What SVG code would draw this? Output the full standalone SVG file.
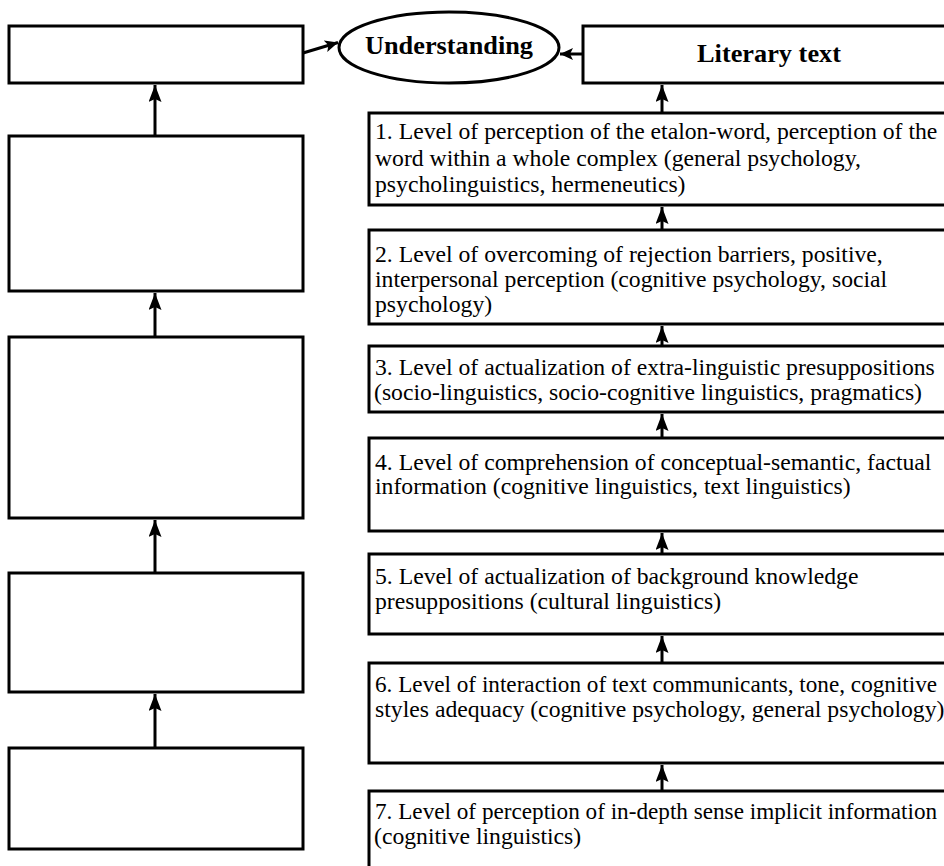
<svg xmlns="http://www.w3.org/2000/svg" width="944" height="866" viewBox="0 0 944 866">
<defs>
<style>
.box{fill:#fff;stroke:#000;stroke-width:3}
.t{font-family:"Liberation Serif","Times New Roman",serif;font-size:23.7px;fill:#000}
.n{font-family:"Liberation Serif","Times New Roman",serif;font-size:23.2px;fill:#000}
.b{font-family:"Liberation Serif","Times New Roman",serif;font-size:25px;font-weight:bold;fill:#000}
.c{fill:none;stroke:#000;stroke-width:3}
</style>
<marker id="ah" viewBox="0 0 13 12" refX="13" refY="6" markerUnits="userSpaceOnUse" markerWidth="13" markerHeight="12" orient="auto">
<path d="M0,0 L13,6 L0,12 L3,6 Z" fill="#000"/>
</marker>
<marker id="av" viewBox="0 0 17 13" refX="17" refY="6.5" markerUnits="userSpaceOnUse" markerWidth="17" markerHeight="13" orient="auto">
<path d="M0,0 L17,6.5 L0,13 L3,6.5 Z" fill="#000"/>
</marker>
</defs>
<rect width="944" height="866" fill="#fff"/>
<g id="left1"><rect class="box" x="9" y="26" width="294" height="57"/></g>
<g id="left2"><rect class="box" x="9" y="136" width="294" height="155"/></g>
<g id="left3"><rect class="box" x="9" y="337" width="294" height="181"/></g>
<g id="left4"><rect class="box" x="9" y="573" width="294" height="119"/></g>
<g id="left5"><rect class="box" x="9" y="748" width="294" height="101"/></g>
<g id="understanding"><ellipse cx="449" cy="47.5" rx="110" ry="35.5" fill="#fff" stroke="#000" stroke-width="3"/>
<text class="b" x="449" y="54" text-anchor="middle" textLength="168" lengthAdjust="spacingAndGlyphs">Understanding</text></g>
<g id="literary"><rect class="box" x="583" y="26" width="365" height="57"/>
<text class="b" x="769" y="62" text-anchor="middle" textLength="144" lengthAdjust="spacingAndGlyphs">Literary text</text></g>
<g id="level1"><rect class="box" x="369" y="113" width="579" height="92"/>
<text class="t" x="375" y="139">1. Level of perception of the etalon-word, perception of the</text>
<text class="t" x="375" y="165.5">word within a whole complex (general psychology,</text>
<text class="t" x="375" y="192">psycholinguistics, hermeneutics)</text></g>
<g id="level2"><rect class="box" x="369" y="230" width="579" height="94"/>
<text class="t" x="375" y="261.5">2. Level of overcoming of rejection barriers, positive,</text>
<text class="t" x="375" y="286.5">interpersonal perception (cognitive psychology, social</text>
<text class="t" x="375" y="311.5">psychology)</text></g>
<g id="level3"><rect class="box" x="369" y="346" width="579" height="66"/>
<text class="t" x="375" y="374.5">3. Level of actualization of extra-linguistic presuppositions</text>
<text class="t" x="374" y="400">(socio-linguistics, socio-cognitive linguistics, pragmatics)</text></g>
<g id="level4"><rect class="box" x="369" y="438" width="579" height="93"/>
<text class="t" x="375" y="469.5">4. Level of comprehension of conceptual-semantic, factual</text>
<text class="t" x="375" y="494">information (cognitive linguistics, text linguistics)</text></g>
<g id="level5"><rect class="box" x="369" y="554" width="579" height="80"/>
<text class="t" x="375" y="583.5">5. Level of actualization of background knowledge</text>
<text class="t" x="375" y="608.5">presuppositions (cultural linguistics)</text></g>
<g id="level6"><rect class="box" x="369" y="663" width="579" height="100"/>
<text class="n" x="375" y="692">6. Level of interaction of text communicants, tone, cognitive</text>
<text class="t" x="375" y="717">styles adequacy (cognitive psychology, general psychology)</text></g>
<g id="level7"><rect class="box" x="369" y="791" width="579" height="100"/>
<text class="n" x="375" y="819">7. Level of perception of in-depth sense implicit information</text>
<text class="t" x="374" y="844">(cognitive linguistics)</text></g>
<g id="connectors">
<line class="c" x1="303" y1="53" x2="338" y2="42.5" marker-end="url(#ah)"/>
<line class="c" x1="583" y1="54" x2="560" y2="54" marker-end="url(#ah)"/>
<line class="c" x1="155" y1="136" x2="155" y2="85" marker-end="url(#av)"/>
<line class="c" x1="155" y1="337" x2="155" y2="293" marker-end="url(#av)"/>
<line class="c" x1="155" y1="573" x2="155" y2="520" marker-end="url(#av)"/>
<line class="c" x1="155" y1="748" x2="155" y2="694" marker-end="url(#av)"/>
<line class="c" x1="662" y1="112" x2="662" y2="85" marker-end="url(#av)"/>
<line class="c" x1="662" y1="229" x2="662" y2="207" marker-end="url(#av)"/>
<line class="c" x1="662" y1="345" x2="662" y2="326" marker-end="url(#av)"/>
<line class="c" x1="662" y1="437" x2="662" y2="414" marker-end="url(#av)"/>
<line class="c" x1="662" y1="553" x2="662" y2="533" marker-end="url(#av)"/>
<line class="c" x1="662" y1="662" x2="662" y2="636" marker-end="url(#av)"/>
<line class="c" x1="662" y1="790" x2="662" y2="765" marker-end="url(#av)"/>
</g>
</svg>
